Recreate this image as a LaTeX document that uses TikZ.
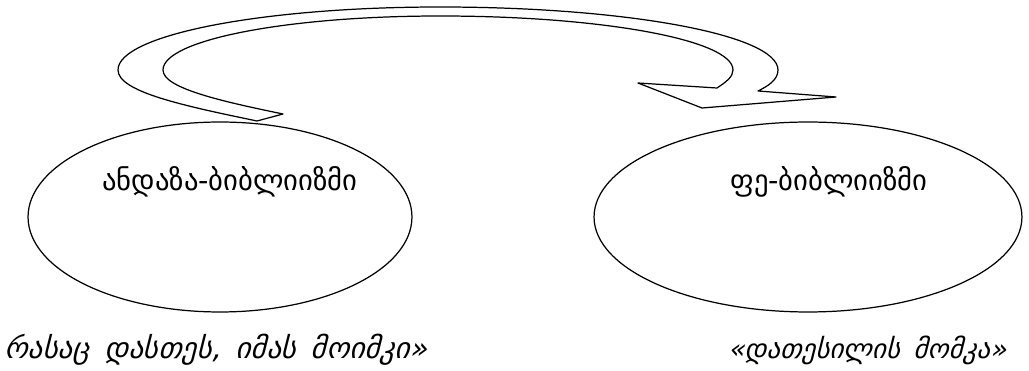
\documentclass[tikz,border=0pt]{standalone}
\usepackage{fontspec}
\usetikzlibrary{calc, shapes.geometric}
\newfontfamily\geofont{DejaVu Sans}
\newfontfamily\geoslant[FakeSlant=0.25]{DejaVu Sans}
\newfontfamily\geoslantwide[FakeSlant=0.25, WordSpace=1.6]{DejaVu Sans}

\begin{document}
\begin{tikzpicture}[
    x=0.02cm, y=-0.02cm,
    oval/.style={ellipse, draw, line width=0.7pt, inner sep=0pt},
    inlabel/.style={font=\geofont\fontsize{16.3}{19}\selectfont},
    saying/.style={font=\geoslant\fontsize{15.3}{18}\selectfont},
    widesaying/.style={font=\geoslantwide\fontsize{16.6}{19}\selectfont},
    block/.style={draw, line width=0.7pt, line join=round, fill=white}
]

% 1. Frame of the picture
\useasboundingbox (0,0) rectangle (1029,371);

% 2. The two ovals
\node[oval, minimum width=7.68cm, minimum height=3.8cm] (andaza) at (220,217) {};
\node[oval, minimum width=8.56cm, minimum height=3.8cm] (fe) at (808,217) {};

% 3. Texts inside the ovals
\node[inlabel] (andazatxt) at ($(andaza.center)+(10,-35)$) {ანდაზა-ბიბლიიზმი};
\node[inlabel] (fetxt) at ($(fe.center)+(21,-35)$) {ფე-ბიბლიიზმი};

% 4. Sayings under the ovals
\node[widesaying] (andazasay) at (216,350) {რასაც დასთეს, იმას მოიმკი»};
\node[saying] (fesay) at (867,350) {«დათესილის მომკა»};

% 5. Bent block arrow from the left oval to the right one
\coordinate (TailOut) at (257,121);
\coordinate (TailIn)  at (283,114);
\coordinate (HeadOut) at (758,91);
\coordinate (HeadIn)  at (717,88);
\coordinate (BarbIn)  at (638,83);
\coordinate (BarbLow) at (702,108);
\coordinate (Tip)     at (836,97);

\draw[block] (TailOut)
    .. controls (185,106) and (118,92) .. (118,70)
    .. controls (118,35) and (262,7) .. (440,7)
    .. controls (627,7) and (778,35) .. (778,70)
    .. controls (778,80) and (768,86) .. (HeadOut)
    -- (Tip) -- (BarbLow) -- (BarbIn) -- (HeadIn)
    .. controls (726,82) and (733,77) .. (733,70)
    .. controls (733,40) and (602,16) .. (440,16)
    .. controls (287,16) and (163,40) .. (163,70)
    .. controls (163,88) and (220,101) .. (TailIn)
    -- cycle;

\end{tikzpicture}
\end{document}
